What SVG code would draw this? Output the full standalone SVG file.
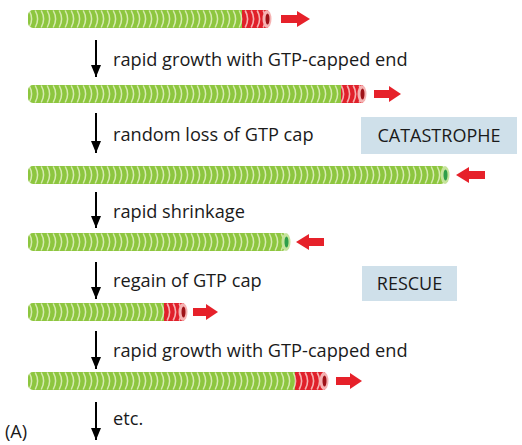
<svg xmlns="http://www.w3.org/2000/svg" width="522" height="445" viewBox="0 0 522 445">
  <style>
    .lbl { font-family: "Open Sans", "Liberation Sans", sans-serif; font-size: 18.2px; fill: #1a1a1a; }
    .box { fill: #cfe0ea; }
    .boxt { font-family: "Open Sans", "Liberation Sans", sans-serif; font-size: 18px; fill: #1a1a1a; text-anchor: middle; }
    .step { stroke: #000; stroke-width: 2; fill: none; }
    .red { fill: #e6212a; }
  </style>
  <defs>
    <!-- tubulin ring stripes, tube body spans local y 0..18 -->
    <pattern id="gstripe" patternUnits="userSpaceOnUse" width="6" height="18">
      <rect width="6" height="18" fill="#8dc63f"/>
      <path d="M1.2,0.5 Q6,9 1.2,17.5" stroke="#d6ebb0" stroke-width="1.5" fill="none"/>
    </pattern>
    <pattern id="rstripe" patternUnits="userSpaceOnUse" width="6" height="18">
      <rect width="6" height="18" fill="#e0202a"/>
      <path d="M1.2,0.5 Q6,9 1.2,17.5" stroke="#f6b0b0" stroke-width="1.6" fill="none"/>
    </pattern>
    <marker id="dn" markerWidth="12" markerHeight="10" refX="12" refY="5" orient="auto" markerUnits="userSpaceOnUse" viewBox="0 0 12 10">
      <path d="M0,0 L12,5 L0,10 Z" fill="#000"/>
    </marker>
  </defs>

  <!-- microtubules -->
  <g id="mt1" transform="translate(28,10)">
    <rect x="0" y="0" width="240" height="18" rx="5" fill="url(#gstripe)"/>
    <rect x="214" y="0" width="26" height="18" fill="url(#rstripe)"/>
    <ellipse cx="239" cy="9" rx="4.5" ry="9" fill="#f5b3b3"/>
    <ellipse cx="239.5" cy="9" rx="2" ry="5.5" fill="#9e1218"/>
  </g>
  <g id="mt2" transform="translate(28,85)">
    <rect x="0" y="0" width="335" height="18" rx="5" fill="url(#gstripe)"/>
    <rect x="313" y="0" width="22" height="18" fill="url(#rstripe)"/>
    <ellipse cx="334" cy="9" rx="4.5" ry="9" fill="#f5b3b3"/>
    <ellipse cx="334.5" cy="9" rx="2" ry="5.5" fill="#9e1218"/>
  </g>
  <g id="mt3" transform="translate(28,166)">
    <rect x="0" y="0" width="418" height="18" rx="5" fill="url(#gstripe)"/>
    <ellipse cx="417" cy="9" rx="4.5" ry="9" fill="#c6e39c"/>
    <ellipse cx="417.5" cy="9" rx="2" ry="5.5" fill="#2e9e4a"/>
  </g>
  <g id="mt4" transform="translate(28,233)">
    <rect x="0" y="0" width="259" height="18" rx="5" fill="url(#gstripe)"/>
    <ellipse cx="258" cy="9" rx="4.5" ry="9" fill="#c6e39c"/>
    <ellipse cx="258.5" cy="9" rx="2" ry="5.5" fill="#2e9e4a"/>
  </g>
  <g id="mt5" transform="translate(28,303)">
    <rect x="0" y="0" width="156" height="18" rx="5" fill="url(#gstripe)"/>
    <rect x="136" y="0" width="20" height="18" fill="url(#rstripe)"/>
    <ellipse cx="155" cy="9" rx="4.5" ry="9" fill="#f5b3b3"/>
    <ellipse cx="155.5" cy="9" rx="2" ry="5.5" fill="#9e1218"/>
  </g>
  <g id="mt6" transform="translate(28,372)">
    <rect x="0" y="0" width="297" height="18" rx="5" fill="url(#gstripe)"/>
    <rect x="267" y="0" width="30" height="18" fill="url(#rstripe)"/>
    <ellipse cx="296" cy="9" rx="4.5" ry="9" fill="#f5b3b3"/>
    <ellipse cx="296.5" cy="9" rx="2" ry="5.5" fill="#9e1218"/>
  </g>

  <!-- direction of growth / shrinkage -->
  <g id="dir-arrows">
    <path class="red" d="M281,15 H297 V11 L310,19 L297,27 V23 H281 Z"/>
    <path class="red" d="M374,90 H389 V86 L401,94 L389,102 V98 H374 Z"/>
    <path class="red" d="M485,171 H469 V167 L456,175 L469,183 V179 H485 Z"/>
    <path class="red" d="M324,238 H309 V234 L296,242 L309,250 V246 H324 Z"/>
    <path class="red" d="M193,308 H206 V304 L218,312 L206,320 V316 H193 Z"/>
    <path class="red" d="M336,377 H350 V373 L362,381 L350,389 V385 H336 Z"/>
  </g>

  <!-- step connectors -->
  <g id="connectors">
    <line class="step" x1="96" y1="40" x2="96" y2="77" marker-end="url(#dn)"/>
    <line class="step" x1="96" y1="113" x2="96" y2="153" marker-end="url(#dn)"/>
    <line class="step" x1="96" y1="192" x2="96" y2="228" marker-end="url(#dn)"/>
    <line class="step" x1="96" y1="262" x2="96" y2="299" marker-end="url(#dn)"/>
    <line class="step" x1="96" y1="331" x2="96" y2="369" marker-end="url(#dn)"/>
    <line class="step" x1="96" y1="402" x2="96" y2="440" marker-end="url(#dn)"/>
  </g>

  <!-- step labels -->
  <g id="labels">
    <text class="lbl" x="113" y="66">rapid growth with GTP-capped end</text>
    <text class="lbl" x="113" y="141">random loss of GTP cap</text>
    <text class="lbl" x="113" y="218">rapid shrinkage</text>
    <text class="lbl" x="113" y="287">regain of GTP cap</text>
    <text class="lbl" x="113" y="357">rapid growth with GTP-capped end</text>
    <text class="lbl" x="113" y="425">etc.</text>
    <text class="lbl" x="5" y="438">(A)</text>
  </g>

  <g id="catastrophe">
    <rect class="box" x="361" y="117" width="156" height="37"/>
    <text class="boxt" x="439" y="142">CATASTROPHE</text>
  </g>
  <g id="rescue">
    <rect class="box" x="362" y="266" width="95" height="35"/>
    <text class="boxt" x="409.5" y="290">RESCUE</text>
  </g>
</svg>
